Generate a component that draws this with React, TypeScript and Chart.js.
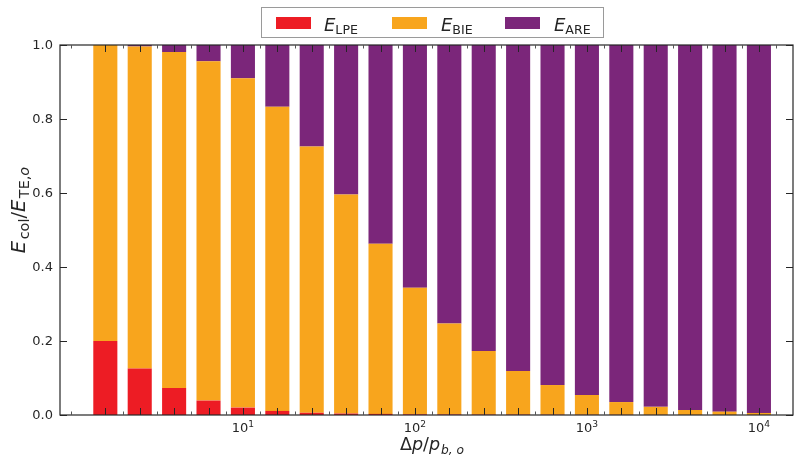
import React, { useEffect, useRef } from "react";
import { Chart, registerables } from "chart.js";

Chart.register(...registerables);

// Δp/p_{b,o} positions of the bars
const xValues = [1.585, 2.512, 3.981, 6.31, 10, 15.85, 25.12, 39.81, 63.1, 100, 158.5, 251.2, 398.1, 631.0, 1000, 1585, 2512, 3981, 6310, 10000];
// energy fractions
const eLPE = [0.2, 0.126, 0.073, 0.039, 0.02, 0.011, 0.006, 0.004, 0.003, 0.002, 0.0015, 0.001, 0.001, 0.0008, 0.0005, 0.0004, 0.0003, 0.0002, 0.0002, 0.0001];
const eBIE = [0.8, 0.87, 0.908, 0.917, 0.89, 0.822, 0.72, 0.592, 0.46, 0.342, 0.2455, 0.172, 0.118, 0.0802, 0.0535, 0.0346, 0.0217, 0.0133, 0.0088, 0.0054];
const eARE = [0.0, 0.004, 0.019, 0.044, 0.09, 0.167, 0.274, 0.404, 0.537, 0.656, 0.753, 0.827, 0.881, 0.919, 0.946, 0.965, 0.978, 0.9865, 0.991, 0.9945];
const yTicks = [0, 0.2, 0.4, 0.6, 0.8, 1.0];
const xLabelTicks = [10, 100, 1000, 10000];
const xLabelExps = ["1", "2", "3", "4"];
const legendSubs = ["LPE", "BIE", "ARE"];

const COLORS = ["#ED1C24", "#F8A51D", "#7B267A"];
const FONT = '"DejaVu Sans"';

type Part = { t: string; it?: boolean; sub?: boolean; sup?: boolean; gap?: number };

function partFont(p: Part, size: number, ratio: number) {
  const s = p.sub || p.sup ? size * ratio : size;
  return `${p.it ? "italic " : ""}${s}px ${FONT}`;
}
function richWidth(ctx: CanvasRenderingContext2D, parts: Part[], size: number, ratio: number) {
  let w = 0;
  for (const p of parts) {
    ctx.font = partFont(p, size, ratio);
    w += ctx.measureText(p.t).width + (p.gap || 0);
  }
  return w;
}
function drawRich(ctx: CanvasRenderingContext2D, parts: Part[], x: number, y: number, size: number, align: "left" | "center", ratio = 0.7) {
  let cx = align === "center" ? x - richWidth(ctx, parts, size, ratio) / 2 : x;
  ctx.textAlign = "left";
  ctx.textBaseline = "alphabetic";
  for (const p of parts) {
    ctx.font = partFont(p, size, ratio);
    const dy = p.sub ? size * 0.22 : p.sup ? -size * 0.42 : 0;
    ctx.fillText(p.t, cx, y + dy);
    cx += ctx.measureText(p.t).width + (p.gap || 0);
  }
}

const decorPlugin = {
  id: "decor",
  afterDraw(chart: any) {
    const ctx: CanvasRenderingContext2D = chart.ctx;
    const { left, right, top, bottom } = chart.chartArea;
    const xs = chart.scales.x;
    const ys = chart.scales.y;
    ctx.save();
    ctx.strokeStyle = "#262626";
    ctx.fillStyle = "#262626";
    ctx.lineWidth = 1.2;
    ctx.strokeRect(left, top, right - left, bottom - top);

    // x ticks: major at bar centres, minor between
    ctx.lineWidth = 1;
    const drawXTick = (v: number, len: number) => {
      const px = Math.round(xs.getPixelForValue(v)) + 0.5;
      if (px < left || px > right) return;
      ctx.beginPath();
      ctx.moveTo(px, bottom);
      ctx.lineTo(px, bottom - len);
      ctx.moveTo(px, top);
      ctx.lineTo(px, top + len);
      ctx.stroke();
    };
    for (const v of xValues) drawXTick(v, 7);
    const minorX = [1, ...xValues.map((v) => v * Math.pow(10, 0.1))];
    ctx.strokeStyle = "#555";
    for (const v of minorX) drawXTick(v, 3.5);
    ctx.strokeStyle = "#262626";

    // y ticks
    for (const v of yTicks) {
      const py = Math.round(ys.getPixelForValue(v)) + 0.5;
      ctx.beginPath();
      ctx.moveTo(left, py);
      ctx.lineTo(left + 7, py);
      ctx.moveTo(right, py);
      ctx.lineTo(right - 7, py);
      ctx.stroke();
      ctx.textAlign = "right";
      ctx.textBaseline = "middle";
      ctx.font = `13px ${FONT}`;
      ctx.fillText(v.toFixed(1), left - 7, py);
    }

    // x tick labels
    xLabelTicks.forEach((v, i) => {
      const px = xs.getPixelForValue(v);
      drawRich(ctx, [{ t: "10" }, { t: xLabelExps[i], sup: true }], px, 432, 13, "center");
    });

    // axis titles
    drawRich(ctx, [{ t: "Δ" }, { t: "p", it: true }, { t: "/" }, { t: "p", it: true, gap: 1 }, { t: "b, o", it: true, sub: true }], 432, 450, 17.5, "center");
    ctx.save();
    ctx.translate(25, 210);
    ctx.rotate(-Math.PI / 2);
    drawRich(ctx, [{ t: "E", it: true, gap: 1.5 }, { t: "col", sub: true }, { t: "/" }, { t: "E", it: true, gap: 1.5 }, { t: "TE,", sub: true }, { t: "o", it: true, sub: true }], 0, 0, 19.5, "center", 0.74);
    ctx.restore();

    // legend
    ctx.fillStyle = "#ffffff";
    ctx.fillRect(261.5, 7.5, 342, 30);
    ctx.strokeStyle = "#9a9a9a";
    ctx.lineWidth = 1;
    ctx.strokeRect(261.5, 7.5, 342, 30);
    const swX = [276, 392, 505];
    const txX = [324, 441, 554];
    legendSubs.forEach((s, i) => {
      ctx.fillStyle = COLORS[i];
      ctx.fillRect(swX[i], 17, 35, 12);
      ctx.fillStyle = "#262626";
      drawRich(ctx, [{ t: "E", it: true }, { t: s, sub: true }], txX[i], 30.5, 18, "left");
    });
    ctx.restore();
  },
};

export default function App() {
  const ref = useRef<HTMLCanvasElement | null>(null);
  useEffect(() => {
    if (!ref.current) return;
    const series = [eLPE, eBIE, eARE];
    const chart = new Chart(ref.current, {
      type: "bar",
      data: {
        datasets: series.map((arr, i) => ({
          label: ["E_LPE", "E_BIE", "E_ARE"][i],
          data: xValues.map((x, j) => ({ x, y: arr[j] })),
          backgroundColor: COLORS[i],
          borderWidth: 0,
          barPercentage: 0.7,
          categoryPercentage: 1.0,
        })),
      },
      options: {
        responsive: false,
        animation: false,
        events: [],
        layout: { padding: { left: 60, right: 2, top: 45, bottom: 43 } },
        plugins: { legend: { display: false }, tooltip: { enabled: false } },
        scales: {
          x: {
            type: "logarithmic",
            min: 0.864,
            max: 15780,
            stacked: true,
            display: false,
            bounds: "data",
            afterBuildTicks: (scale: any) => {
              scale.ticks = xValues.map((v) => ({ value: v }));
            },
          },
          y: {
            type: "linear",
            min: 0,
            max: 1,
            stacked: true,
            display: false,
          },
        },
      } as any,
      plugins: [decorPlugin],
    });
    return () => chart.destroy();
  }, []);
  return (
    <div style={{ position: "absolute", left: 0, top: 0, width: 795, height: 458, background: "#fff" }}>
      <canvas ref={ref} width={795} height={458} />
    </div>
  );
}
